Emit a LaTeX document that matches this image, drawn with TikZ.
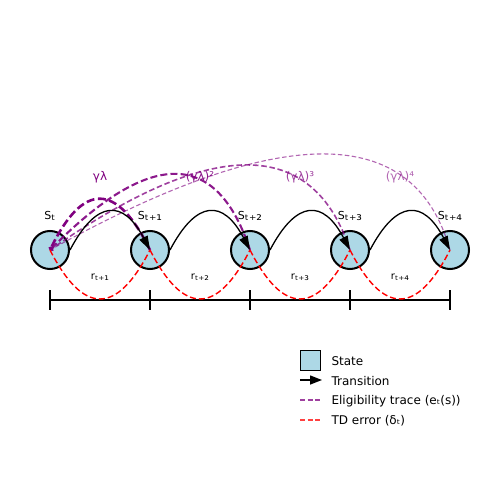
\documentclass[tikz,border=0pt]{standalone}
\usepackage{fontspec}
\setmainfont{DejaVu Sans}
\usetikzlibrary{arrows.meta}

\definecolor{stateBlue}{HTML}{ADD8E6}
\definecolor{tracePurple}{HTML}{800080}
\newcommand{\subText}[3]{\raisebox{#2}{\fontsize{#1}{#1}\selectfont #3}}

\begin{document}
\begin{tikzpicture}[x=1pt,y=-1pt,
  stateNode/.style={circle,draw=black,fill=stateBlue,line width=2pt,minimum size=38pt,inner sep=0pt},
  stateLabel/.style={font=\fontsize{11pt}{13pt}\selectfont},
  rewardLabel/.style={font=\fontsize{10pt}{12pt}\selectfont},
  traceLabel/.style={text=tracePurple,font=\fontsize{12pt}{14pt}\selectfont},
  legendText/.style={anchor=west,font=\fontsize{12pt}{14pt}\selectfont},
  transArrow/.style={black,line width=1.3pt,-{Triangle[length=14pt,width=9pt]}},
  traceLine/.style={tracePurple,-{To[length=3pt,width=5pt]}},
  tdLine/.style={red,line width=1.4pt,dash pattern=on 6pt off 3pt},
  timeLine/.style={black,line width=2pt}]
  \useasboundingbox[fill=white] (0,0) rectangle (500,500);

  % time axis
  \foreach \i in {0,...,4}
    \coordinate (tick\i) at (50+100*\i,300);
  \draw[timeLine] (tick0) -- (tick4);
  \foreach \i in {0,...,4}
    \draw[timeLine] ([yshift=10pt]tick\i) -- ([yshift=-10pt]tick\i);

  % states
  \foreach \i/\nodeLabel in {0/ₜ,1/ₜ₊₁,2/ₜ₊₂,3/ₜ₊₃,4/ₜ₊₄}
  {
    \node[stateNode] (s\i) at (50+100*\i,250) {};
    \node[stateLabel] (lblS\i) at (50+100*\i,216) {S\subText{14pt}{-1.4pt}{\nodeLabel}};
  }

  % eligibility traces
  \foreach \k/\nodeLabel/\op/\lw/\don/\doff/\bx/\by/\ax in {
    4/{(γλ)⁴}/0.6/1.1/4.5/2.5/-36/-128/230.7,
    3/{(γλ)³}/0.75/1.6/5.5/2.8/-37.3/-113.3/162.7,
    2/{(γλ)²}/0.9/2.1/7/3.2/-33.3/-101.3/100,
    1/{γλ}/1/2.6/8/3.5/-33.3/-68/33.3}
  {
    \draw[traceLine,line width=\lw pt,opacity=\op,dash pattern=on \don pt off \doff pt]
      (s\k.center) .. controls +(\bx,\by) and +(\ax,\by) .. (s0.center);
    \node[traceLabel,opacity=\op] (trace\k) at (\k*100,177) {\nodeLabel};
  }

  % transitions and TD errors
  \foreach \i/\j/\nodeLabel in {0/1/ₜ₊₁,1/2/ₜ₊₂,2/3/ₜ₊₃,3/4/ₜ₊₄}
  {
    \draw[transArrow] (s\i.east) .. controls +(26.7,-50.7) and +(-26.7,-50.7) .. (s\j.center);
    \draw[tdLine] (s\i.center) .. controls +(33.3,65.3) and +(-33.3,65.3) .. (s\j.center);
    \node[rewardLabel] (lblR\j) at (100*\j,277) {r\subText{11.5pt}{-1.2pt}{\nodeLabel}};
  }

  % legend
  \node[draw=black,fill=stateBlue,line width=1pt,minimum size=20pt,inner sep=0pt] (legBox) at (310,360) {};
  \node[legendText] (legState) at (328,361) {State};
  \coordinate (legArrA) at (300,380);
  \coordinate (legArrB) at (322,380);
  \draw[black,line width=1.4pt,-{Triangle[length=12pt,width=9pt]}] (legArrA) -- (legArrB);
  \node[legendText] (legTrans) at (328,381) {Transition};
  \coordinate (legTrA) at (300,400);
  \coordinate (legTrB) at (320,400);
  \draw[tracePurple,opacity=0.75,line width=1.5pt,dash pattern=on 5pt off 2.5pt] (legTrA) -- (legTrB);
  \node[legendText] (legTrace) at (328,401) {Eligibility trace (eₜ(s))};
  \coordinate (legTdA) at (300,420);
  \coordinate (legTdB) at (320,420);
  \draw[red,opacity=0.75,line width=1.5pt,dash pattern=on 5pt off 2.5pt] (legTdA) -- (legTdB);
  \node[legendText] (legTd) at (328,421) {TD error (δₜ)};
\end{tikzpicture}
\end{document}
